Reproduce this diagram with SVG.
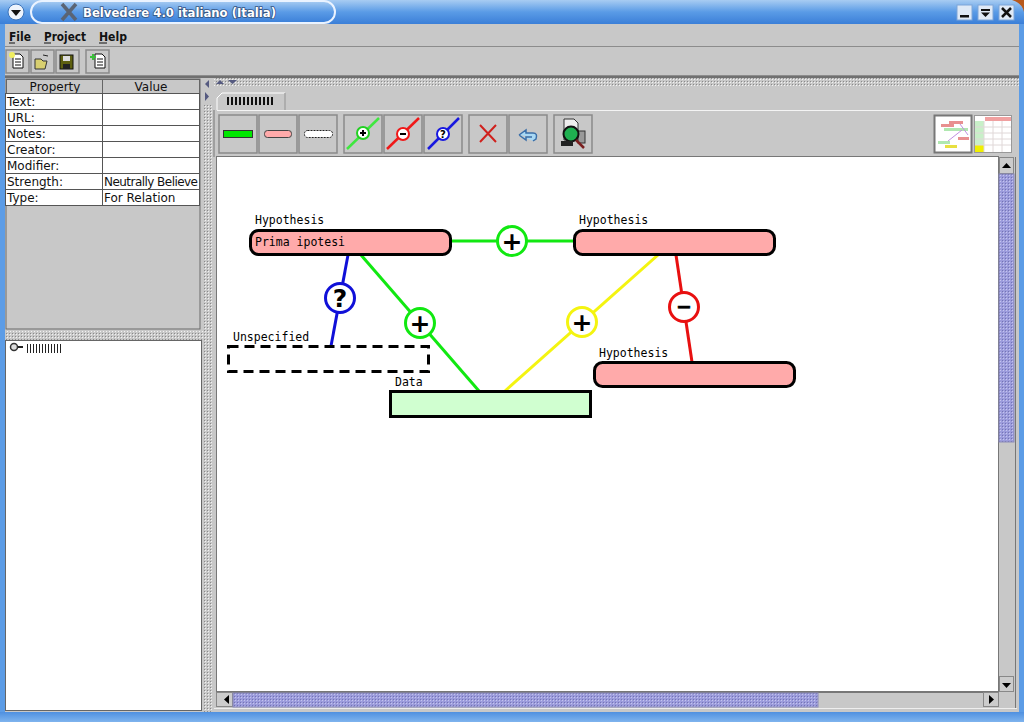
<svg xmlns="http://www.w3.org/2000/svg" width="1024" height="722" viewBox="0 0 1024 722">
<style>
.ui{font-family:"DejaVu Sans",sans-serif;font-size:12px;fill:#111}
.menu{font-family:"DejaVu Sans",sans-serif;font-size:12px;font-weight:bold;fill:#111}
.mono{font-family:"DejaVu Sans Mono","Liberation Mono",monospace;font-size:11.5px;fill:#000}
.cell{fill:#fff;stroke:#555;stroke-width:1}
.head{fill:#c8c8c8;stroke:#666;stroke-width:1}
.btn{fill:#c8c8c8;stroke:#8a8a8a;stroke-width:1.5}
.hyp{fill:#ffaaaa;stroke:#000;stroke-width:3}
.sym{font-family:"DejaVu Sans","Liberation Sans",sans-serif;font-weight:bold;font-size:25px;fill:#000;text-anchor:middle}
.knob{fill:#fff;stroke-width:3}
</style>
<defs>
<linearGradient id="tb" x1="0" y1="0" x2="0" y2="1"><stop offset="0" stop-color="#a8ccf2"/><stop offset=".5" stop-color="#5a9be6"/><stop offset="1" stop-color="#3b7fd8"/></linearGradient>
<linearGradient id="tb2" x1="0" y1="0" x2="0" y2="1"><stop offset="0" stop-color="#4f90e0"/><stop offset="1" stop-color="#7fb4ee"/></linearGradient>
<pattern id="dots" width="3" height="3" patternUnits="userSpaceOnUse"><rect width="3" height="3" fill="#c8c8c8"/><rect width="1" height="1" fill="#8a8a8a"/><rect x="1" y="1" width="1" height="1" fill="#f2f2f2"/></pattern>
<pattern id="pdots" width="3" height="3" patternUnits="userSpaceOnUse"><rect width="3" height="3" fill="#9c9cdc"/><rect width="1" height="1" fill="#7474b4"/><rect x="1" y="1" width="1" height="1" fill="#c4c4ee"/></pattern>
</defs>

<!-- window frame -->
<rect width="1024" height="722" fill="#5c9ce6"/>
<rect x="0" y="712" width="1024" height="10" fill="url(#tb2)"/>
<rect x="0" y="0" width="1024" height="24" fill="url(#tb)"/>
<path d="M1012 0H1024V12Q1022 3 1012 0Z" fill="#b8591c"/>
<rect x="31" y="1" width="304" height="22" rx="11" fill="url(#tb)" stroke="#eaf3ff" stroke-width="2"/>
<circle cx="16" cy="12" r="8" fill="#eef4fc" stroke="#3b72b8"/>
<path d="M11 10H21L16 16Z" fill="#111"/>
<path d="M62 4L76 20M76 4L62 20" stroke="#5a6474" stroke-width="3.5"/>
<text x="83" y="17" font-family="'DejaVu Sans',sans-serif" font-size="12.5" font-weight="bold" textLength="193" lengthAdjust="spacingAndGlyphs" fill="#ffffff" stroke="#34527e" stroke-width="1.6" paint-order="stroke">Belvedere 4.0 italiano (Italia)</text>
<g>
<rect x="957" y="5" width="15" height="15" fill="#dfe9f6" stroke="#7fa6d8"/><rect x="960" y="15" width="9" height="2.5" fill="#111"/>
<rect x="978" y="5" width="15" height="15" fill="#dfe9f6" stroke="#7fa6d8"/><path d="M981 9H990V11H981ZM981 12.500H990L985.500 17Z" fill="#111"/>
<rect x="999" y="5" width="15" height="15" fill="#dfe9f6" stroke="#7fa6d8"/><path d="M1002 8L1011 17M1011 8L1002 17" stroke="#111" stroke-width="2.500"/>
</g>
<rect x="5" y="24" width="1014" height="688" fill="#c8c8c8"/>

<!-- menu bar -->
<text class="menu" x="9" y="41" textLength="22" lengthAdjust="spacingAndGlyphs">File</text>
<text class="menu" x="44" y="41" textLength="42" lengthAdjust="spacingAndGlyphs">Project</text>
<text class="menu" x="99" y="41" textLength="28" lengthAdjust="spacingAndGlyphs">Help</text>
<path d="M9 43H15M44 43H51M99 43H107" stroke="#111"/>
<path d="M5 46.500H1019" stroke="#8c8c8c"/>
<path d="M5 75.500H1019" stroke="#8c8c8c"/>
<path d="M5 77H1019" stroke="#707070" stroke-width="2"/>

<!-- top toolbar -->
<g id="toolbar-main">
<rect class="btn" x="6" y="50" width="23" height="23"/><rect class="btn" x="31" y="50" width="23" height="23"/><rect class="btn" x="56" y="50" width="23" height="23"/><rect class="btn" x="86" y="50" width="23" height="23"/>
<path d="M13 54H20L23 57V68H13Z" fill="#fff" stroke="#111"/><path d="M15 59H21M15 62H21M15 65H21" stroke="#111"/><circle cx="12" cy="55" r="3" fill="#f0ee60"/>
<path d="M35 59H41L43 61H47L45 69H35Z" fill="#d8cf70" stroke="#333"/><path d="M43 55L48 56" stroke="#222"/>
<rect x="60" y="55" width="13" height="14" fill="#5e6010" stroke="#111"/><rect x="63" y="56" width="7" height="5" fill="#ddd"/><rect x="63" y="64" width="7" height="5" fill="#222"/>
<path d="M95 54H102L105 57V68H95Z" fill="#fff" stroke="#111"/><path d="M97 59H103M97 62H103M97 65H103" stroke="#111"/><path d="M90 57H96M93 54V60" stroke="#3cc03c" stroke-width="2"/>
</g>

<!-- property table -->
<g id="property-table">
<rect x="6" y="79" width="194" height="250" fill="#c8c8c8" stroke="#6a6a6a"/>
<rect class="head" x="6.500" y="79.500" width="96" height="14"/><rect class="head" x="102.500" y="79.500" width="97" height="14"/>
<text class="ui" x="55" y="91" text-anchor="middle">Property</text><text class="ui" x="151" y="91" text-anchor="middle">Value</text>
<rect class="cell" x="5.500" y="93.500" width="97" height="16"/><rect class="cell" x="102.500" y="93.500" width="97" height="16"/>
<rect class="cell" x="5.500" y="109.500" width="97" height="16"/><rect class="cell" x="102.500" y="109.500" width="97" height="16"/>
<rect class="cell" x="5.500" y="125.500" width="97" height="16"/><rect class="cell" x="102.500" y="125.500" width="97" height="16"/>
<rect class="cell" x="5.500" y="141.500" width="97" height="16"/><rect class="cell" x="102.500" y="141.500" width="97" height="16"/>
<rect class="cell" x="5.500" y="157.500" width="97" height="16"/><rect class="cell" x="102.500" y="157.500" width="97" height="16"/>
<rect class="cell" x="5.500" y="173.500" width="97" height="16"/><rect class="cell" x="102.500" y="173.500" width="97" height="16"/>
<rect class="cell" x="5.500" y="189.500" width="97" height="16"/><rect class="cell" x="102.500" y="189.500" width="97" height="16"/>
<text class="ui" x="7" y="106">Text:</text>
<text class="ui" x="7" y="122">URL:</text>
<text class="ui" x="7" y="138">Notes:</text>
<text class="ui" x="7" y="154">Creator:</text>
<text class="ui" x="7" y="170">Modifier:</text>
<text class="ui" x="7" y="186">Strength:</text>
<text class="ui" x="7" y="202">Type:</text>
<text class="ui" x="104" y="186" textLength="94">Neutrally Believe</text>
<text class="ui" x="104" y="202">For Relation</text>
</g>

<!-- splitters -->
<rect x="5" y="331" width="198" height="9" fill="url(#dots)"/>
<rect x="204" y="78" width="8" height="634" fill="url(#dots)"/>
<rect x="204" y="78" width="8" height="26" fill="#c8c8c8"/>
<path d="M209 80V88L205 84ZM205 92V101L209 96.500Z" fill="#555a80"/>
<rect x="214" y="78" width="805" height="9" fill="url(#dots)"/>
<path d="M216 84L220 80L224 84ZM228 80H237L232.500 84Z" fill="#555a80"/>

<!-- tree -->
<g id="tree">
<rect x="5.500" y="340.500" width="196" height="370" fill="#fff" stroke="#666"/>
<circle cx="14" cy="347" r="3.500" fill="#ddd" stroke="#333" stroke-width="1.500"/><path d="M18 347H23" stroke="#222" stroke-width="2"/>
<path d="M27.500 344V353M30.500 344V353M33.500 344V353M36.500 344V353M39.500 344V353M42.500 344V353M45.500 344V353M48.500 344V353M51.500 344V353M54.500 344V353M57.500 344V353M60.500 344V353" stroke="#222"/>
</g>

<!-- tab -->
<path d="M214 110V157" stroke="#777"/>
<path d="M217 110V98L222 93H285V110" fill="#c8c8c8" stroke="#fff"/>
<path d="M285 93V110" stroke="#777"/>
<path d="M217 110.500H999" stroke="#f4f4f4"/>
<path d="M228 97V105M232 97V105M236 97V105M240 97V105M244 97V105M248 97V105M252 97V105M256 97V105M260 97V105M264 97V105M268 97V105M272 97V105" stroke="#111" stroke-width="2"/>

<!-- diagram toolbar -->
<g id="toolbar-diagram">
<rect class="btn" x="219" y="115" width="38" height="38"/><rect class="btn" x="259" y="115" width="38" height="38"/><rect class="btn" x="299" y="115" width="38" height="38"/>
<rect class="btn" x="344" y="115" width="38" height="38"/><rect class="btn" x="384" y="115" width="38" height="38"/><rect class="btn" x="424" y="115" width="38" height="38"/>
<rect class="btn" x="469" y="115" width="38" height="38"/><rect class="btn" x="509" y="115" width="38" height="38"/><rect class="btn" x="554" y="115" width="38" height="38"/>
<rect x="223.500" y="130.500" width="29" height="7" fill="#00e800" stroke="#333"/>
<rect x="264.500" y="130.500" width="27" height="7" rx="3" fill="#ffaaaa" stroke="#444"/>
<rect x="304.500" y="130.500" width="28" height="7" rx="3" fill="#fff" stroke="#222" stroke-dasharray="2 1"/>
<path d="M347 149L379 118" stroke="#3fe83f" stroke-width="2.500"/><circle cx="363" cy="133" r="6" fill="#fff" stroke="#22d022" stroke-width="2"/><path d="M360 133H366M363 130V136" stroke="#000" stroke-width="2"/>
<path d="M387 149L419 118" stroke="#f01818" stroke-width="2.500"/><circle cx="403" cy="134" r="6" fill="#fff" stroke="#f01818" stroke-width="2"/><path d="M400 134H406" stroke="#000" stroke-width="2"/>
<path d="M428 149L459 118" stroke="#1818e0" stroke-width="2.500"/><circle cx="443" cy="134" r="6" fill="#fff" stroke="#1818e0" stroke-width="2"/><text x="443" y="138" font-family="'DejaVu Sans',sans-serif" font-size="10" font-weight="bold" text-anchor="middle">?</text>
<path d="M480 125L496 142M496 125L480 142" stroke="#d0201c" stroke-width="2"/>
<path d="M519 135L526 130V133H533Q538 133 536 139L533 141M519 135L526 140V137H532" fill="#a8d8f4" stroke="#3a6ea8" stroke-width="1.500"/>
<path d="M564 119H574L578 123V140H564Z" fill="#eee" stroke="#333"/><rect x="578" y="131" width="7" height="12" fill="#999" stroke="#333"/>
<circle cx="571" cy="134" r="7.500" fill="#1fb050" stroke="#111" stroke-width="2"/><path d="M576 140L584 148" stroke="#7a2020" stroke-width="2.500"/><rect x="561" y="141" width="12" height="5" fill="#222"/>
</g>

<!-- thumbnails -->
<g id="thumbnails">
<rect x="934.500" y="115.500" width="37" height="37" fill="#fff" stroke="#777" stroke-width="2"/>
<rect x="949" y="121" width="14" height="3" fill="#e89090"/><rect x="941" y="124" width="13" height="3" fill="#e89090"/><rect x="944" y="128" width="24" height="3" fill="#b0e8b0"/><rect x="938" y="141" width="12" height="3" fill="#b0e8b0"/><rect x="945" y="145" width="12" height="3" fill="#e8e040"/><rect x="958" y="137" width="11" height="3" fill="#e89090"/>
<path d="M948 141L962 130M960 124L968 135" stroke="#c090e0"/>
<rect x="974.500" y="115.500" width="37" height="37" fill="#fff" stroke="#999"/>
<rect x="985" y="117" width="26" height="4" fill="#f0a0a0"/><rect x="975" y="121" width="9" height="24" fill="#c8f0c8"/><rect x="975" y="145" width="9" height="7" fill="#f0f000"/>
<path d="M975 127H1011M975 133H1011M975 139H1011M975 145H1011M984 121V152M993 121V152M1002 121V152" stroke="#e0d8d8"/>
</g>

<!-- canvas -->
<rect x="216.500" y="156.500" width="782" height="535" fill="#fff" stroke="#777"/>

<!-- scrollbars -->
<g id="scrollbars">
<rect x="999" y="157" width="15" height="535" fill="#c8c8c8"/>
<rect x="999.500" y="157.500" width="14" height="16" fill="#ccc" stroke="#888"/><path d="M1002 168L1006.500 163L1011 168Z" fill="#000"/>
<rect x="999" y="174" width="15" height="268" fill="url(#pdots)" stroke="#8a8ab8"/>
<rect x="999.500" y="676.500" width="14" height="15" fill="#ccc" stroke="#888"/><path d="M1002 683H1011L1006.500 688Z" fill="#000"/>
<rect x="216" y="692" width="783" height="15" fill="#c8c8c8"/>
<path d="M216 692.500H999" stroke="#777"/>
<rect x="216.500" y="692.500" width="16" height="14" fill="#ccc" stroke="#888"/><path d="M229 695V704L224 699.500Z" fill="#000"/>
<rect x="233" y="693" width="585" height="14" fill="url(#pdots)" stroke="#8a8ab8"/>
<rect x="983.500" y="692.500" width="15" height="14" fill="#ccc" stroke="#888"/><path d="M989 695V704L994 699.500Z" fill="#000"/>
<path d="M214 708.500H1017" stroke="#eee"/>
<path d="M1015.500 157V708" stroke="#777"/>
</g>

<!-- connectors -->
<g id="connectors" fill="none" stroke-width="3">
<path d="M451 241H574" stroke="#11e811"/>
<path d="M348 255L331 346" stroke="#1010d8"/>
<path d="M361 255L479 391" stroke="#11e811"/>
<path d="M658 255L505 391" stroke="#f4f410"/>
<path d="M676 255L692 362" stroke="#e81010"/>
</g>

<g id="knob-1"><circle class="knob" cx="512" cy="241" r="14.500" stroke="#11e811"/><text class="sym" x="512" y="250">+</text></g>
<g id="knob-2"><circle class="knob" cx="340" cy="298" r="14.500" stroke="#1010d8"/><text class="sym" x="340" y="307">?</text></g>
<g id="knob-3"><circle class="knob" cx="420" cy="323" r="14.500" stroke="#11e811"/><text class="sym" x="420" y="332">+</text></g>
<g id="knob-4"><circle class="knob" cx="582" cy="322" r="14.500" stroke="#f4f410"/><text class="sym" x="582" y="331">+</text></g>
<g id="knob-5"><circle class="knob" cx="684" cy="307" r="14.500" stroke="#e81010"/><text class="sym" x="684" y="313" style="font-size:19px" stroke="#000" stroke-width=".5">−</text></g>

<!-- nodes -->
<g id="node-hyp1"><text class="mono" x="255" y="224">Hypothesis</text><rect class="hyp" x="250.500" y="230.500" width="200" height="24" rx="8"/><text class="mono" x="255" y="245.500">Prima ipotesi</text></g>
<g id="node-hyp2"><text class="mono" x="579" y="224">Hypothesis</text><rect class="hyp" x="574.500" y="230.500" width="200" height="24" rx="8"/></g>
<g id="node-hyp3"><text class="mono" x="599" y="357">Hypothesis</text><rect class="hyp" x="594.500" y="362.500" width="200" height="24" rx="8"/></g>
<g id="node-unspec"><text class="mono" x="233" y="341">Unspecified</text><rect x="228.500" y="346.500" width="200" height="25" fill="#fff" stroke="#000" stroke-width="3" stroke-dasharray="10 6"/></g>
<g id="node-data"><text class="mono" x="395" y="386">Data</text><rect x="390.500" y="391.500" width="200" height="25" fill="#d0ffd0" stroke="#000" stroke-width="3"/></g>
</svg>
